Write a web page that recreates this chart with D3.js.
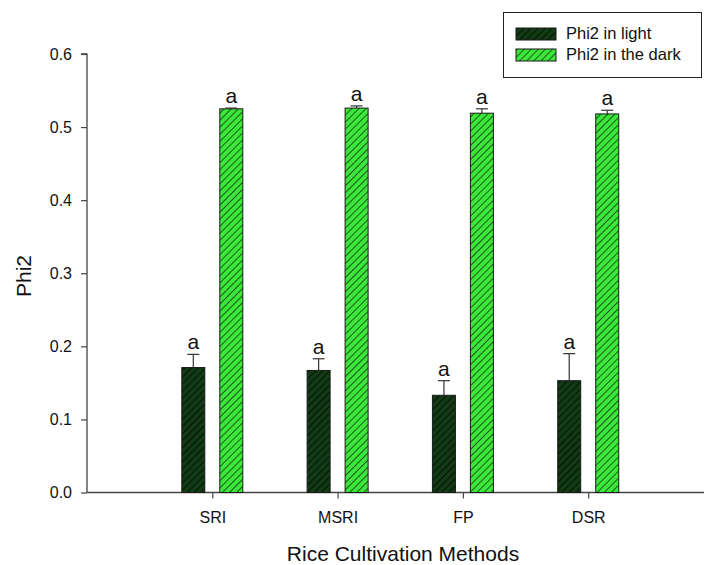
<!DOCTYPE html>
<html>
<head>
<meta charset="utf-8">
<script src="https://cdn.jsdelivr.net/npm/d3@7"></script>
<style>
  body { margin: 0; background: #fff; }
  text { font-family: Arial, "Liberation Sans", sans-serif; fill: #111; }
</style>
</head>
<body>
<svg id="chart" width="704" height="565"></svg>
<script>
var methods = ["SRI", "MSRI", "FP", "DSR"];
var lightVals = [0.171, 0.167, 0.133, 0.153];
var lightErr = [0.018, 0.016, 0.020, 0.037];
var darkVals = [0.525, 0.526, 0.519, 0.518];
var darkErr = [0.001, 0.003, 0.006, 0.005];
var seriesNames = ["Phi2 in light", "Phi2 in the dark"];
var yTicks = [0, 0.1, 0.2, 0.3, 0.4, 0.5, 0.6];

var svg = d3.select("#chart");
var FONT = "Arial, 'Liberation Sans', sans-serif";

// hatch patterns
var defs = svg.append("defs");
function hatch(id, bg, line) {
    var p = defs.append("pattern")
        .attr("id", id)
        .attr("patternUnits", "userSpaceOnUse")
        .attr("width", 5).attr("height", 5)
        .attr("patternTransform", "rotate(45)");
    p.append("rect").attr("width", 5).attr("height", 5).attr("fill", bg);
    p.append("line").attr("x1", 0).attr("y1", 0).attr("x2", 0).attr("y2", 5)
        .attr("stroke", line).attr("stroke-width", 2);
}
hatch("hLight", "#123a14", "#041404");
hatch("hDark", "#3be83a", "#1d5a1d");

var x = d3.scaleLinear().domain([0, 4.9]).range([87, 701]);
var y = d3.scaleLinear().domain([0, 0.6]).range([492.5, 54]);

// y axis
var yAxis = svg.append("g").attr("transform", "translate(87,0)")
    .call(d3.axisLeft(y).tickValues(yTicks).tickFormat(d3.format(".1f")).tickSize(6).tickPadding(9));
yAxis.select(".domain").attr("stroke", "#444").attr("stroke-width", 1.3).attr("d", "M-6," + y(0.6) + "H0V" + y(0));
yAxis.selectAll(".tick line").attr("stroke", "#444").attr("stroke-width", 1.2);
yAxis.selectAll(".tick text").style("font-size", "16px").style("font-family", FONT).attr("fill", "#111");

// x axis
var xAxis = svg.append("g").attr("transform", "translate(0," + y(0) + ")")
    .call(d3.axisBottom(x).tickValues([1, 2, 3, 4]).tickFormat(function(d) { return methods[d - 1]; }).tickSize(6).tickPadding(13));
xAxis.select(".domain").attr("stroke", "#444").attr("stroke-width", 1.3).attr("d", "M87,0H704");
xAxis.selectAll(".tick line").attr("stroke", "#444").attr("stroke-width", 1.2);
xAxis.selectAll(".tick text").style("font-size", "16px").style("font-family", FONT).attr("fill", "#111");

var barW = 23, off = 19;
var groups = [
    { vals: lightVals, err: lightErr, fill: "url(#hLight)", dx: -off },
    { vals: darkVals, err: darkErr, fill: "url(#hDark)", dx: off }
];

groups.forEach(function(g) {
    methods.forEach(function(m, i) {
        var cx = x(i + 1) + g.dx;
        svg.append("rect")
            .attr("x", cx - barW / 2).attr("y", y(g.vals[i]))
            .attr("width", barW).attr("height", y(0) - y(g.vals[i]))
            .attr("fill", g.fill).attr("stroke", "#1a1a1a").attr("stroke-width", 1);
        var top = y(g.vals[i] + g.err[i]);
        svg.append("line").attr("x1", cx).attr("x2", cx)
            .attr("y1", y(g.vals[i])).attr("y2", top)
            .attr("stroke", "#333").attr("stroke-width", 1.2);
        svg.append("line").attr("x1", cx - 6).attr("x2", cx + 6)
            .attr("y1", top).attr("y2", top)
            .attr("stroke", "#333").attr("stroke-width", 1.2);
        svg.append("text").attr("x", cx).attr("y", top - 5)
            .attr("text-anchor", "middle").style("font-size", "21px").text("a");
    });
});

// axis titles
svg.append("text").attr("transform", "translate(31,276) rotate(-90)")
    .attr("text-anchor", "middle").style("font-size", "21px").text("Phi2");
svg.append("text").attr("x", 403).attr("y", 561)
    .attr("text-anchor", "middle").style("font-size", "21px").text("Rice Cultivation Methods");

// legend
var lg = svg.append("g");
lg.append("rect").attr("x", 503.5).attr("y", 12.5).attr("width", 198).attr("height", 65)
    .attr("fill", "#fff").attr("stroke", "#222").attr("stroke-width", 1);
var legFills = ["url(#hLight)", "url(#hDark)"];
seriesNames.forEach(function(n, i) {
    var yy = 28 + i * 21;
    lg.append("rect").attr("x", 516).attr("y", yy).attr("width", 40).attr("height", 12)
        .attr("fill", legFills[i]).attr("stroke", "#1a1a1a").attr("stroke-width", 1);
    lg.append("text").attr("x", 566).attr("y", yy + 11).style("font-size", "16.5px").text(n);
});
</script>
</body>
</html>
